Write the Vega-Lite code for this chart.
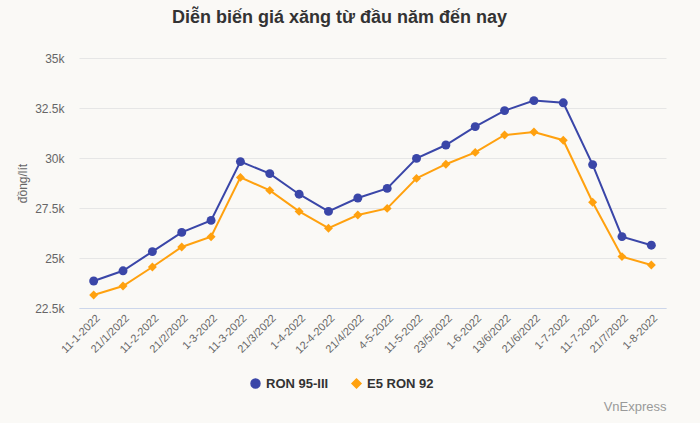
{
  "$schema": "https://vega.github.io/schema/vega-lite/v6.json",
  "width": 587,
  "height": 250,
  "autosize": {"type": "none"},
  "padding": {"left": 79, "top": 58, "right": 34, "bottom": 115},
  "background": "#faf9f6",
  "title": {
    "text": "Diễn biến giá xăng từ đầu năm đến nay",
    "font": "Liberation Sans",
    "fontSize": 18,
    "fontWeight": "bold",
    "color": "#333333",
    "anchor": "middle",
    "offset": 25,
    "dx": -33
  },
  "config": {
    "view": {"stroke": null},
    "font": "Liberation Sans"
  },
  "data": {
    "values": [
      {"date": "11-1-2022", "series": "RON 95-III", "price": 23850},
      {"date": "21/1/2022", "series": "RON 95-III", "price": 24360},
      {"date": "11-2-2022", "series": "RON 95-III", "price": 25320},
      {"date": "21/2/2022", "series": "RON 95-III", "price": 26280},
      {"date": "1-3-2022", "series": "RON 95-III", "price": 26880},
      {"date": "11-3-2022", "series": "RON 95-III", "price": 29820},
      {"date": "21/3/2022", "series": "RON 95-III", "price": 29220},
      {"date": "1-4-2022", "series": "RON 95-III", "price": 28190},
      {"date": "12-4-2022", "series": "RON 95-III", "price": 27330},
      {"date": "21/4/2022", "series": "RON 95-III", "price": 28000},
      {"date": "4-5-2022", "series": "RON 95-III", "price": 28480},
      {"date": "11-5-2022", "series": "RON 95-III", "price": 29980},
      {"date": "23/5/2022", "series": "RON 95-III", "price": 30650},
      {"date": "1-6-2022", "series": "RON 95-III", "price": 31570},
      {"date": "13/6/2022", "series": "RON 95-III", "price": 32370},
      {"date": "21/6/2022", "series": "RON 95-III", "price": 32870},
      {"date": "1-7-2022", "series": "RON 95-III", "price": 32760},
      {"date": "11-7-2022", "series": "RON 95-III", "price": 29670},
      {"date": "21/7/2022", "series": "RON 95-III", "price": 26070},
      {"date": "1-8-2022", "series": "RON 95-III", "price": 25640},
      {"date": "11-1-2022", "series": "E5 RON 92", "price": 23150},
      {"date": "21/1/2022", "series": "E5 RON 92", "price": 23600},
      {"date": "11-2-2022", "series": "E5 RON 92", "price": 24550},
      {"date": "21/2/2022", "series": "E5 RON 92", "price": 25550},
      {"date": "1-3-2022", "series": "E5 RON 92", "price": 26060},
      {"date": "11-3-2022", "series": "E5 RON 92", "price": 29030},
      {"date": "21/3/2022", "series": "E5 RON 92", "price": 28380},
      {"date": "1-4-2022", "series": "E5 RON 92", "price": 27330},
      {"date": "12-4-2022", "series": "E5 RON 92", "price": 26490},
      {"date": "21/4/2022", "series": "E5 RON 92", "price": 27150},
      {"date": "4-5-2022", "series": "E5 RON 92", "price": 27480},
      {"date": "11-5-2022", "series": "E5 RON 92", "price": 28980},
      {"date": "23/5/2022", "series": "E5 RON 92", "price": 29690},
      {"date": "1-6-2022", "series": "E5 RON 92", "price": 30280},
      {"date": "13/6/2022", "series": "E5 RON 92", "price": 31150},
      {"date": "21/6/2022", "series": "E5 RON 92", "price": 31300},
      {"date": "1-7-2022", "series": "E5 RON 92", "price": 30890},
      {"date": "11-7-2022", "series": "E5 RON 92", "price": 27790},
      {"date": "21/7/2022", "series": "E5 RON 92", "price": 25070},
      {"date": "1-8-2022", "series": "E5 RON 92", "price": 24650}
    ]
  },
  "encoding": {
    "x": {
      "field": "date",
      "type": "nominal",
      "sort": null,
      "scale": {"type": "point", "padding": 0.5},
      "axis": {
        "title": "VnExpress",
        "titleAnchor": "end",
        "titleAlign": "right",
        "titleY": 92,
        "titleColor": "#999999",
        "titleFontWeight": "normal",
        "titleFontSize": 13,
        "labelAngle": -45,
        "labelColor": "#666666",
        "labelFontSize": 11,
        "labelPadding": 4,
        "ticks": false,
        "domainColor": "#ccd6eb",
        "grid": false
      }
    },
    "y": {
      "field": "price",
      "type": "quantitative",
      "scale": {"domain": [22500, 35000], "nice": false, "zero": false},
      "axis": {
        "values": [22500, 25000, 27500, 30000, 32500, 35000],
        "format": ".3~s",
        "title": "đồng/lít",
        "titleColor": "#666666",
        "titleFontWeight": "normal",
        "titleFontSize": 12,
        "titlePadding": 5,
        "labelColor": "#666666",
        "labelFontSize": 12,
        "labelPadding": 15,
        "ticks": false,
        "domain": false,
        "gridColor": "#e6e6e6",
        "gridWidth": 1
      }
    },
    "color": {
      "field": "series",
      "type": "nominal",
      "sort": ["RON 95-III", "E5 RON 92"],
      "scale": {"domain": ["RON 95-III", "E5 RON 92"], "range": ["#3a46a8", "#ffa10f"]},
      "legend": {
        "title": null,
        "orient": "none",
        "direction": "horizontal",
        "legendX": 170,
        "legendY": 319,
        "labelFontSize": 13,
        "labelFontWeight": "bold",
        "labelColor": "#333333",
        "columnPadding": 20,
        "symbolSize": 80
      }
    }
  },
  "layer": [
    {
      "mark": {"type": "line", "strokeWidth": 2}
    },
    {
      "mark": {"type": "point", "filled": true, "opacity": 1, "size": 80},
      "encoding": {
        "shape": {
          "field": "series",
          "type": "nominal",
          "sort": ["RON 95-III", "E5 RON 92"],
          "scale": {"domain": ["RON 95-III", "E5 RON 92"], "range": ["circle", "diamond"]},
          "legend": null
        }
      }
    }
  ]
}
